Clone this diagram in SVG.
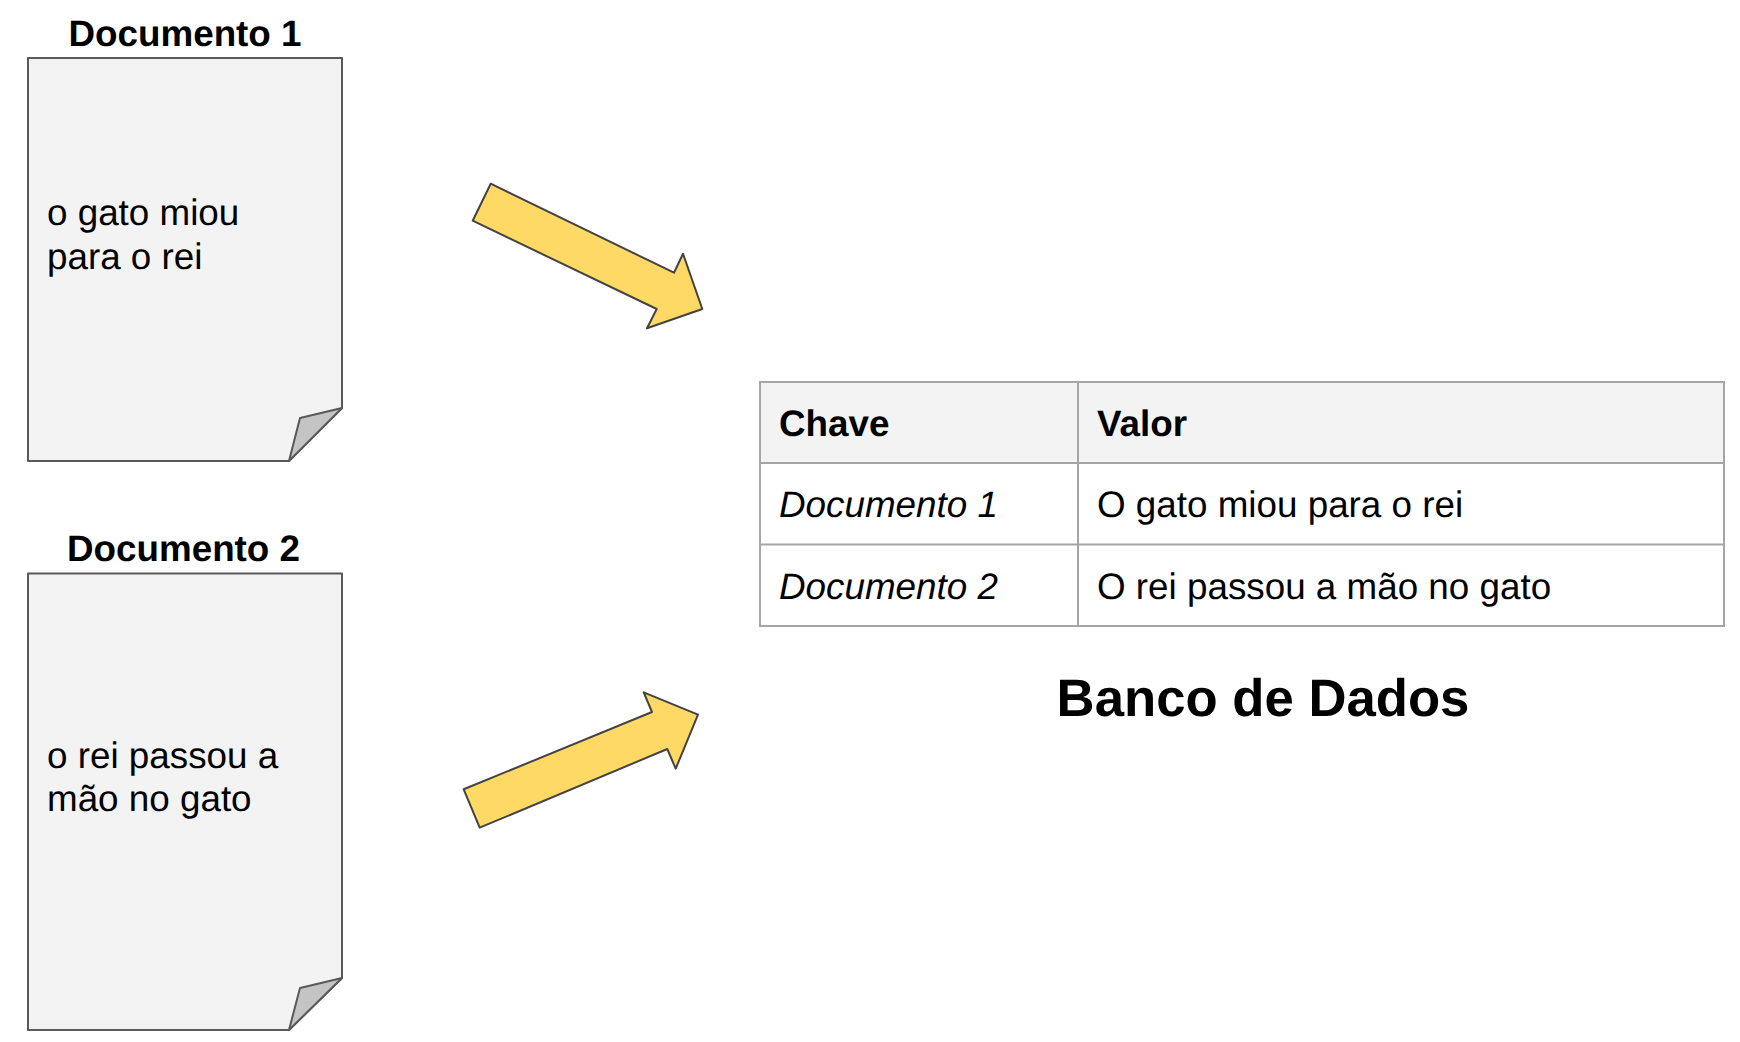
<svg xmlns="http://www.w3.org/2000/svg" width="1740" height="1042" viewBox="0 0 1740 1042">
<style>
text{font-family:"Liberation Sans",Arial,sans-serif;font-size:36.8px;fill:#000;text-rendering:geometricPrecision}
.b{font-weight:700}
.i{font-style:italic}
.m{text-anchor:middle}
.doc{fill:#f3f3f3;stroke:#595959;stroke-width:2;stroke-linejoin:round}
.fold{fill:#c4c4c4;stroke:#595959;stroke-width:2;stroke-linejoin:round}
.arrow{fill:#ffd966;stroke:#434343;stroke-width:2;stroke-linejoin:round}
.grid{stroke:#a5a5a5;stroke-width:2;fill:none}
.head{fill:#f3f3f3}
</style>
<rect width="1740" height="1042" fill="#fff"/>
<g id="connectors">
<polygon class="arrow" points="490.7,183.7 472.7,220.7 656.7,309 647,328.3 702.3,309 683,253.7 674,272.7"/>
<polygon class="arrow" points="463.7,789.3 479.7,827.7 667.3,749 675.7,768.7 698,714.7 643.7,692.3 652,712"/>
</g>
<g id="documento-1">
<text class="b m" x="185" y="46">Documento 1</text>
<polygon class="doc" points="28,58 342,58 342,408 289,461 28,461"/>
<polygon class="fold" points="342,408 300,418 289,461"/>
<text x="47" y="225">o gato miou</text>
<text x="47" y="269">para o rei</text>
</g>
<g id="documento-2">
<text class="b m" x="183.500" y="561">Documento 2</text>
<polygon class="doc" points="28,573.500 342,573.500 342,978 289,1030 28,1030"/>
<polygon class="fold" points="342,978 300,988 289,1030"/>
<text x="47" y="767.500">o rei passou a</text>
<text x="47" y="811">mão no gato</text>
</g>
<g id="banco-de-dados">
<rect class="head" x="760" y="382" width="964" height="81"/>
<path class="grid" d="M760 382H1724V626H760ZM760 463H1724M760 544.500H1724M1078 382V626"/>
<text class="b" x="779" y="436">Chave</text>
<text class="b" x="1097" y="436">Valor</text>
<text class="i" x="779" y="517">Documento 1</text>
<text x="1097" y="517">O gato miou para o rei</text>
<text class="i" x="779" y="599">Documento 2</text>
<text x="1097" y="599">O rei passou a mão no gato</text>
<text class="b m" x="1263" y="715.500" style="font-size:52.7px">Banco de Dados</text>
</g>
</svg>
